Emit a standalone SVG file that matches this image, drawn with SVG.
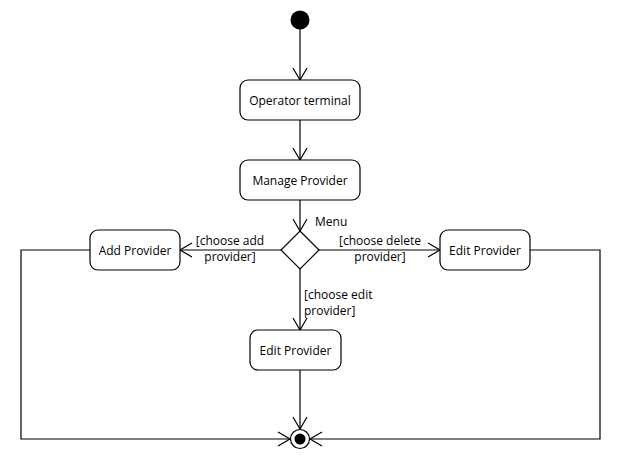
<svg xmlns="http://www.w3.org/2000/svg" width="630" height="470" viewBox="0 0 630 470">
<style>
.node rect{fill:#fff;stroke:#000;stroke-width:1.2}
.lbl{font-family:"Open Sans","Noto Sans","DejaVu Sans",sans-serif;font-size:12px;fill:#000}
.c{text-anchor:middle}
.edge{fill:none;stroke:#000;stroke-width:1.2}
</style>
<defs>
<marker id="arr" markerUnits="userSpaceOnUse" markerWidth="16" markerHeight="16" viewBox="-13 -8 16 16" refX="0" refY="0" orient="auto">
<path d="M-12,-7 L0,0 L-12,7" fill="none" stroke="#000" stroke-width="1.2"/>
</marker>
</defs>
<rect width="630" height="470" fill="#fff"/>
<g id="connectors">
<line class="edge" x1="300" y1="29" x2="300" y2="80" marker-end="url(#arr)"/>
<line class="edge" x1="300" y1="120" x2="300" y2="160" marker-end="url(#arr)"/>
<line class="edge" x1="300" y1="200" x2="300" y2="231" marker-end="url(#arr)"/>
<line class="edge" x1="281" y1="250" x2="180" y2="250" marker-end="url(#arr)"/>
<line class="edge" x1="319" y1="250" x2="440" y2="250" marker-end="url(#arr)"/>
<line class="edge" x1="300" y1="269" x2="300" y2="330" marker-end="url(#arr)"/>
<line class="edge" x1="300" y1="370" x2="300" y2="429" marker-end="url(#arr)"/>
<polyline class="edge" points="90,250 21,250 21,439 290,439" marker-end="url(#arr)"/>
<polyline class="edge" points="530,250 600,250 600,439 310,439" marker-end="url(#arr)"/>
<text class="lbl" x="315" y="226">Menu</text>
<text class="lbl c" x="230" y="245">[choose add</text>
<text class="lbl c" x="230" y="261">provider]</text>
<text class="lbl c" x="380" y="245">[choose delete</text>
<text class="lbl c" x="380" y="261">provider]</text>
<text class="lbl" x="304" y="299">[choose edit</text>
<text class="lbl" x="304" y="315">provider]</text>
</g>
<g id="start"><circle cx="300" cy="20" r="9.5" fill="#000"/></g>
<g id="operator-terminal" class="node">
<rect x="240" y="80" width="120" height="40" rx="8"/>
<text class="lbl c" x="300" y="104.5">Operator terminal</text>
</g>
<g id="manage-provider" class="node">
<rect x="240" y="160" width="120" height="40" rx="8"/>
<text class="lbl c" x="300" y="184.5">Manage Provider</text>
</g>
<g id="menu" class="node">
<polygon points="300,231 319,250 300,269 281,250" fill="#fff" stroke="#000" stroke-width="1.2"/>
</g>
<g id="add-provider" class="node">
<rect x="90" y="230" width="90" height="40" rx="8"/>
<text class="lbl c" x="135" y="254.5">Add Provider</text>
</g>
<g id="edit-provider-right" class="node">
<rect x="440" y="230" width="90" height="40" rx="8"/>
<text class="lbl c" x="485" y="254.5">Edit Provider</text>
</g>
<g id="edit-provider-bottom" class="node">
<rect x="250" y="330" width="91" height="40" rx="8"/>
<text class="lbl c" x="295.5" y="354.5">Edit Provider</text>
</g>
<g id="end">
<circle cx="300" cy="439" r="9.5" fill="#fff" stroke="#000" stroke-width="1.2"/>
<circle cx="300" cy="439" r="5.5" fill="#000"/>
</g>
</svg>
